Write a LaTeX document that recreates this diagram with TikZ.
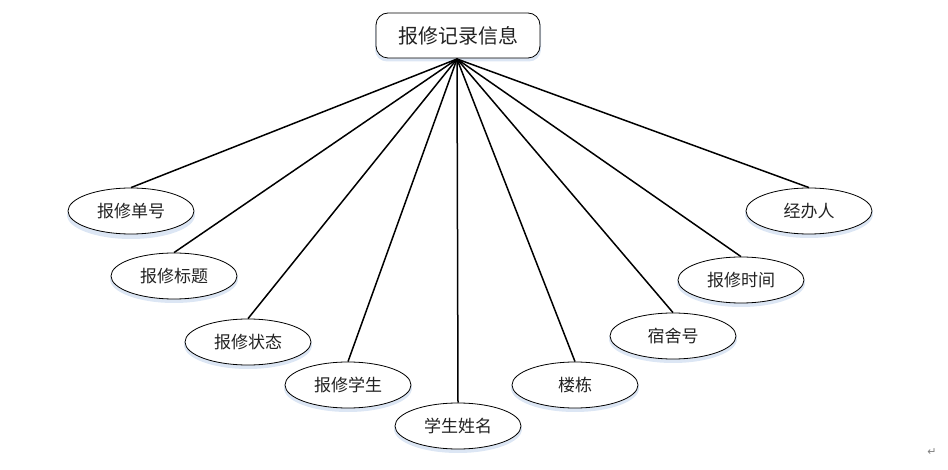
\documentclass[tikz,border=0pt]{standalone}
\usepackage{fontspec}
\newfontfamily\cjk{Noto Sans CJK SC}
\newfontfamily\dejavu{DejaVu Sans}
\usetikzlibrary{shapes.geometric}
\definecolor{shad}{HTML}{DCE6F4}
\definecolor{txt}{HTML}{222222}
\tikzset{
  attr/.style={ellipse, draw=black, line width=0.8pt, fill=white, minimum width=126pt, minimum height=46pt, inner sep=0pt, font=\cjk\fontsize{17}{17}\selectfont, text=txt},
  attrshadow/.style={ellipse, fill=shad, minimum width=128pt, minimum height=48pt, inner sep=0pt},
  rootbox/.style={rectangle, rounded corners=12pt, draw=black, line width=0.8pt, fill=white, minimum width=164pt, minimum height=45pt, inner sep=0pt, font=\cjk\fontsize{20}{20}\selectfont, text=txt},
  link/.style={line width=1.5pt, black}
}
\begin{document}
\begin{tikzpicture}[x=1pt,y=-1pt]
\useasboundingbox (0,0) rectangle (948,470);
% shadows
\foreach \x/\y in {131/215,174/279,248/345,348/388,458/429,575/388,673/339,741/283,809/214}
  \node[attrshadow] at (\x,\y) {};
\node[rectangle, rounded corners=12pt, fill=shad, minimum width=166pt, minimum height=46pt] at (458,38.5) {};
% root
\node[rootbox] (root) at (458,35.5) {报修记录信息};
\coordinate (hub) at (457,59);
% attributes
\node[attr] (a1) at (131,211) {报修单号};
\node[attr] (a2) at (174,276) {报修标题};
\node[attr] (a3) at (248,342) {报修状态};
\node[attr] (a4) at (348,385) {报修学生};
\node[attr] (a5) at (458,426) {学生姓名};
\node[attr] (a6) at (575,385) {楼栋};
\node[attr] (a7) at (673,336) {宿舍号};
\node[attr] (a8) at (741,280) {报修时间};
\node[attr] (a9) at (809,211) {经办人};
% links
\foreach \n in {a1,a2,a3,a4,a5,a6,a7,a8,a9}
  \draw[link] (hub) -- (\n.north);
% paragraph mark
\node[font=\dejavu\fontsize{11}{11}\selectfont, text=gray] (pm) at (932,452) {↵};
\end{tikzpicture}
\end{document}
